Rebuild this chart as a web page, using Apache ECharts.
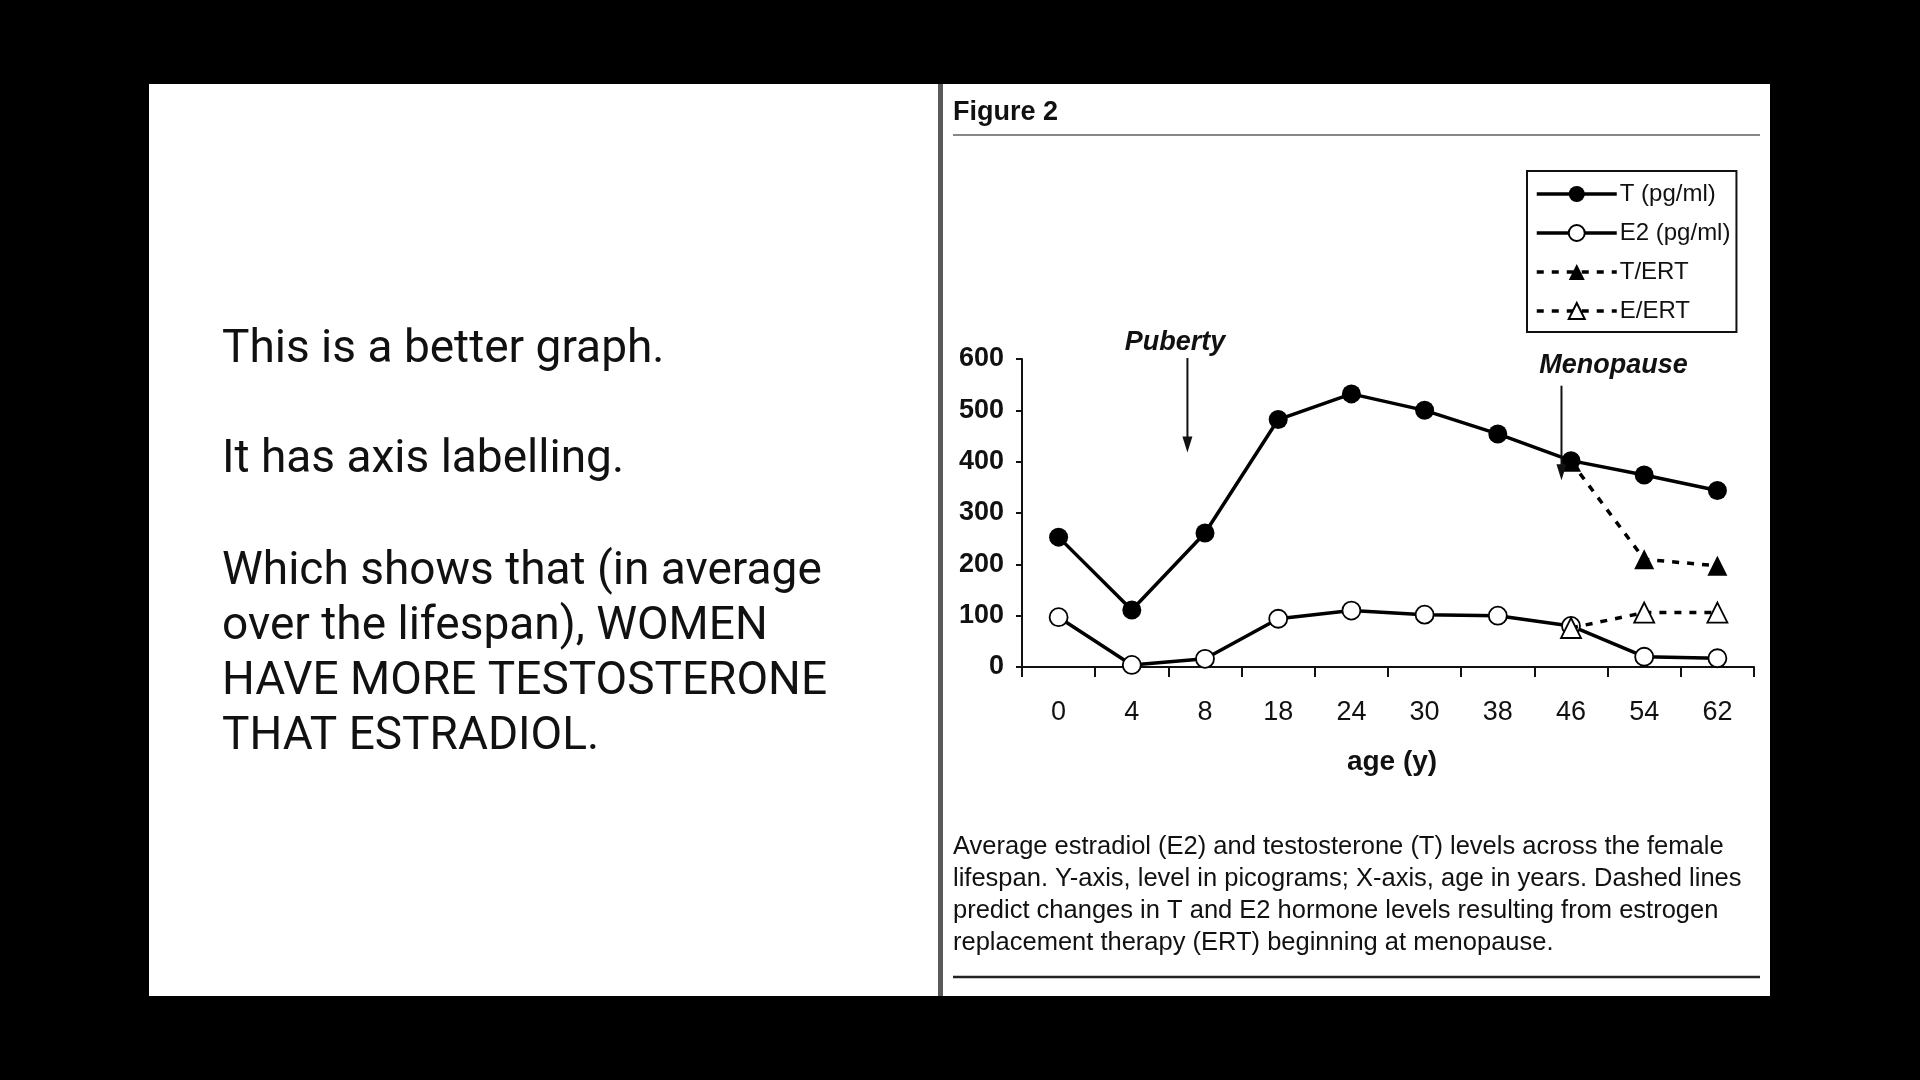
<!DOCTYPE html>
<html>
<head>
<meta charset="utf-8">
<script src="https://cdn.jsdelivr.net/npm/echarts@6/dist/echarts.min.js"></script>
<style>
html,body{margin:0;padding:0;background:#000;}
#c{width:1920px;height:1080px;}
</style>
</head>
<body>
<div id="c"></div>
<script>
const ages = ['0','4','8','18','24','30','38','46','54','62'];
const tValues = [253, 111, 261, 482, 532, 500, 454, 402, 374, 344];
const e2Values = [97, 4, 16, 94, 110, 102, 100, 80, 20, 17];
const tErtValues = [null, null, null, null, null, null, null, 400, 210, 197];
const eErtValues = [null, null, null, null, null, null, null, 76, 106, 106];
const yTicks = [0, 100, 200, 300, 400, 500, 600];
const seriesNames = ['T (pg/ml)', 'E2 (pg/ml)', 'T/ERT', 'E/ERT'];

// annotation arrows (category position, value from, value to), labels
const arrowLabels = ['Puberty', 'Menopause'];
const arrowPos = [1.76, 6.87];
const arrowTop = [602, 548];
const arrowBottom = [418, 364];
const labelPos = [1.59, 7.58];
const labelVal = [633, 587];

const leftText = [
  'This is a better graph.',
  '',
  'It has axis labelling.',
  '',
  'Which shows that (in average',
  'over the lifespan), WOMEN',
  'HAVE MORE TESTOSTERONE',
  'THAT ESTRADIOL.'
];
const caption = [
  'Average estradiol (E2) and testosterone (T) levels across the female',
  'lifespan. Y-axis, level in picograms; X-axis, age in years. Dashed lines',
  'predict changes in T and E2 hormone levels resulting from estrogen',
  'replacement therapy (ERT) beginning at menopause.'
];

const chart = echarts.init(document.getElementById('c'));
const FONT = '"Liberation Sans", Arial, sans-serif';

const baseGraphics = [
  {type:'rect', z:-10, shape:{x:149,y:84,width:789,height:912}, style:{fill:'#fff'}},
  {type:'rect', z:-10, shape:{x:938,y:84,width:5,height:912}, style:{fill:'#5a5a5a'}},
  {type:'rect', z:-10, shape:{x:943,y:84,width:827,height:912}, style:{fill:'#fff'}},
  {type:'text', z:5, style:{x:953, y:113, text:'Figure 2', font:'bold 27px ' + FONT, fill:'#111', textVerticalAlign:'middle'}},
  {type:'line', z:5, shape:{x1:953,y1:135,x2:1760,y2:135}, style:{stroke:'#888', lineWidth:2}},
  {type:'line', z:5, shape:{x1:953,y1:977,x2:1760,y2:977}, style:{stroke:'#222', lineWidth:2.5}},
  {type:'text', z:5, style:{x:1392, y:762, text:'age (y)', font:'bold 28px ' + FONT, fill:'#111', textAlign:'center', textVerticalAlign:'middle'}}
];
const leftYs = [350, 405, 460, 515, 572, 627, 682, 737];
leftText.forEach((t, i) => {
  if (!t) return;
  baseGraphics.push({type:'text', z:5, style:{x:222, y:leftYs[i], text:t, font:'46px Roboto', fill:'#111', textVerticalAlign:'middle'}});
});
caption.forEach((t, i) => {
  baseGraphics.push({type:'text', z:5, style:{x:953, y:847 + i*32, text:t, font:'25.5px ' + FONT, fill:'#111', textVerticalAlign:'middle'}});
});

chart.setOption({
  backgroundColor: '#000',
  animation: false,
  grid: {left: 1022, right: 166, top: 359, bottom: 413},
  legend: {
    orient: 'vertical', left: 1527, top: 171,
    data: seriesNames,
    itemWidth: 80, itemHeight: 20, itemGap: 15,
    padding: [11, 6, 9, 8],
    borderColor: '#111', borderWidth: 2,
    backgroundColor: '#fff',
    lineStyle: {width: 3.5},
    textStyle: {fontFamily: FONT, fontSize: 24, color: '#111', padding:[0,0,0,-2]}
  },
  xAxis: {
    type: 'category', data: ages, boundaryGap: true,
    axisLine: {lineStyle: {color: '#111', width: 2}},
    axisTick: {show: true, alignWithLabel: false, length: 10, lineStyle: {color:'#111', width: 2}},
    axisLabel: {fontFamily: FONT, fontSize: 27, color: '#111', margin: 32}
  },
  yAxis: {
    type: 'value', min: 0, max: 600, interval: 100,
    splitLine: {show: false},
    axisLine: {show: true, lineStyle: {color: '#111', width: 2}},
    axisTick: {show: true, length: 6, lineStyle: {color:'#111', width: 2}},
    axisLabel: {fontFamily: FONT, fontSize: 27, fontWeight: 'bold', color: '#111', margin: 18,
      formatter: v => yTicks.includes(v) ? String(v) : ''}
  },
  series: [
    {name: seriesNames[0], type: 'line', data: tValues, symbol: 'circle', symbolSize: 19,
     lineStyle: {color:'#000', width: 3.5}, itemStyle: {color: '#000'}, z: 3},
    {name: seriesNames[1], type: 'line', data: e2Values, symbol: 'circle', symbolSize: 18,
     lineStyle: {color:'#000', width: 3.5}, itemStyle: {color: '#fff', borderColor: '#000', borderWidth: 1.8}, z: 3},
    {name: seriesNames[2], type: 'line', data: tErtValues, symbol: 'triangle', symbolSize: 20,
     lineStyle: {color:'#000', width: 3.5, type: [7, 8]}, itemStyle: {color: '#000'}, z: 4},
    {name: seriesNames[3], type: 'line', data: eErtValues, symbol: 'triangle', symbolSize: 20,
     lineStyle: {color:'#000', width: 3.5, type: [7, 8]}, itemStyle: {color: '#fff', borderColor: '#000', borderWidth: 1.8}, z: 4}
  ],
  graphic: baseGraphics
});

function px(pos, val) {
  const i0 = Math.floor(pos), i1 = Math.min(i0 + 1, ages.length - 1);
  const p0 = chart.convertToPixel({seriesIndex: 0}, [i0, val]);
  const p1 = chart.convertToPixel({seriesIndex: 0}, [i1, val]);
  const f = pos - i0;
  return [p0[0] + (p1[0] - p0[0]) * f, p0[1]];
}

const annot = [];
arrowLabels.forEach((name, k) => {
  const a = px(arrowPos[k], arrowTop[k]);
  const b = px(arrowPos[k], arrowBottom[k]);
  const l = px(labelPos[k], labelVal[k]);
  annot.push({type:'line', z:6, shape:{x1:a[0], y1:a[1], x2:b[0], y2:b[1] - 12}, style:{stroke:'#111', lineWidth:2}});
  annot.push({type:'polygon', z:6, shape:{points:[[b[0]-5, b[1]-16],[b[0]+5, b[1]-16],[b[0], b[1]]]}, style:{fill:'#111'}});
  annot.push({type:'text', z:6, style:{x:l[0], y:l[1], text:name, font:'italic bold 27px ' + FONT, fill:'#111', textAlign:'center', textVerticalAlign:'middle'}});
});
chart.setOption({graphic: baseGraphics.concat(annot)});
</script>
</body>
</html>
